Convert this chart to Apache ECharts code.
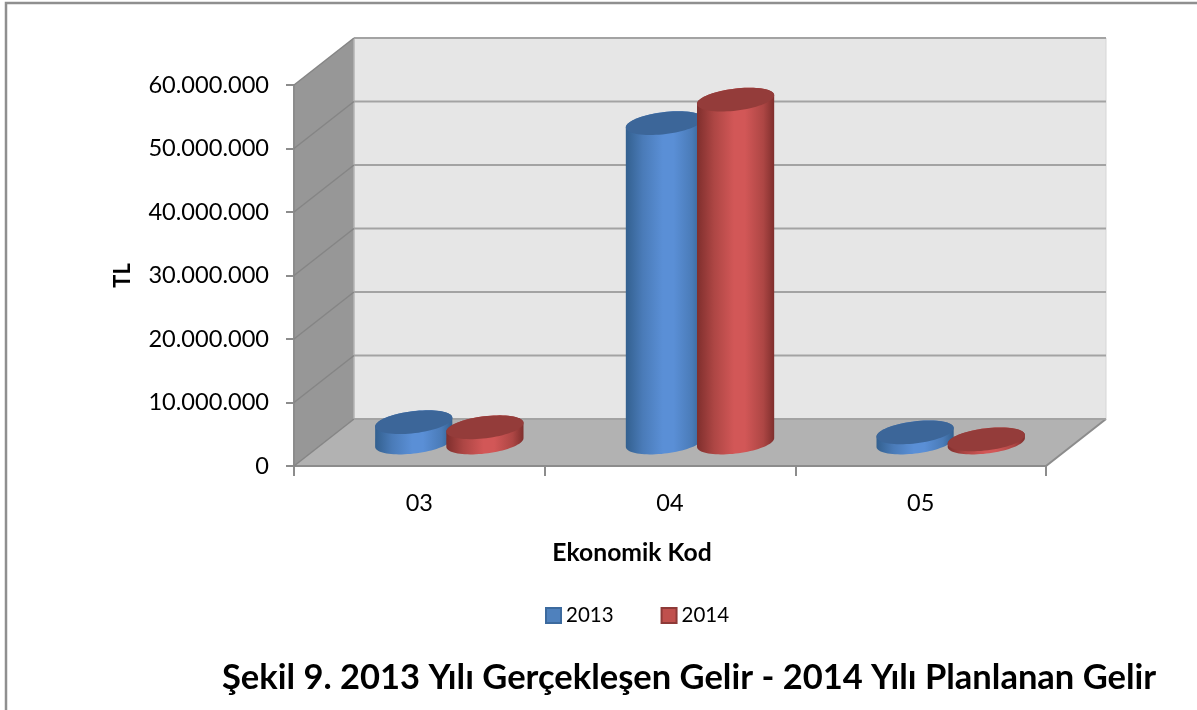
<!DOCTYPE html>
<html><head><meta charset="utf-8"><style>html,body{margin:0;padding:0;background:#fff}#c{width:1197px;height:710px}</style>
<script src="https://cdn.jsdelivr.net/npm/echarts@6/dist/echarts.min.js"></script></head>
<body><div id="c"></div><script>
const categories = ['03','04','05'];
const seriesNames = ['2013','2014'];
const values2013 = [3200000, 50300000, 1600000];
const values2014 = [2400000, 54000000, 500000];
const yTicks = [0,10000000,20000000,30000000,40000000,50000000,60000000];
const titleText = 'Şekil 9. 2013 Yılı Gerçekleşen Gelir - 2014 Yılı Planlanan Gelir';
const F = 'Lato';
const depthX = 60, depthY = 47;
const colors = {
  '2013': {edge:'#33608f', soft:'#4a7bb8', mid:'#5a8fd6', top:'#3c6699', border:'#3c6a9e', fill:'#4f81bd'},
  '2014': {edge:'#7f2f2d', soft:'#ad4644', mid:'#d25757', top:'#943c3a', border:'#8e3a38', fill:'#c0504d'}
};
function fmt(v){return String(v).replace(/\B(?=(\d{3})+$)/g,'.');}
function wallsItem(params, api){
  const v = api.value(0);
  const p = api.coord([0, v]);
  const cs = params.coordSys;
  const L = cs.x, R = cs.x + cs.width, T = cs.y, B = cs.y + cs.height;
  const children = [];
  if (params.dataIndex === 0) {
    children.push({type:'polygon',shape:{points:[[L+depthX,T-depthY],[R+depthX,T-depthY],[R+depthX,B-depthY],[L+depthX,B-depthY]]},style:{fill:'#e6e6e6'}});
    children.push({type:'polygon',shape:{points:[[L,T],[L+depthX,T-depthY],[L+depthX,B-depthY],[L,B]]},style:{fill:'#979797'}});
    children.push({type:'polygon',shape:{points:[[L,B],[L+depthX,B-depthY],[R+depthX,B-depthY],[R,B]]},style:{fill:'#b2b2b2'}});
    children.push({type:'polyline',shape:{points:[[L,T],[L,B],[R,B],[R+depthX,B-depthY]]},style:{fill:'none',stroke:'#8c8c8c',lineWidth:2}});
    children.push({type:'line',shape:{x1:L+depthX,y1:T-depthY,x2:L+depthX,y2:B-depthY},style:{stroke:'#b4b4b4',lineWidth:1.5}});
    children.push({type:'line',shape:{x1:R+depthX,y1:T-depthY,x2:R+depthX,y2:B-depthY},style:{stroke:'#d6d6d6',lineWidth:1}});
  }
  const y = p[1];
  children.push({type:'line',shape:{x1:L,y1:y,x2:L+depthX,y2:y-depthY},style:{stroke:'#858585',lineWidth:1.5}});
  children.push({type:'line',shape:{x1:L+depthX,y1:y-depthY,x2:R+depthX,y2:y-depthY},style:{stroke:'#a3a3a3',lineWidth:2}});
  return {type:'group',children};
}
function ellipsePts(cx,cy,a,b,th,t0,t1,n){
  const pts=[];
  for(let i=0;i<=n;i++){
    const t=t0+(t1-t0)*i/n;
    pts.push([cx+a*Math.cos(t)*Math.cos(th)-b*Math.sin(t)*Math.sin(th),
              cy+a*Math.cos(t)*Math.sin(th)+b*Math.sin(t)*Math.cos(th)]);
  }
  return pts;
}
function cylinder(name, sign){
  return function(params, api){
    const cat = api.value(0), val = api.value(1);
    const top = api.coord([cat,val]), base = api.coord([cat,0]);
    const band = api.size([1,0])[0];
    const off = sign*band*0.142;
    const a = band*0.155, b = 11, th = -7*Math.PI/180;
    const cx = top[0]+off+depthX/2;
    const yTop = top[1]-depthY/2, yBase = base[1]-depthY/2;
    const t0 = Math.atan2(-b*Math.sin(th), a*Math.cos(th));
    const lower = ellipsePts(cx,yBase,a,b,th,t0,t0+Math.PI,40);
    const upper = ellipsePts(cx,yTop,a,b,th,t0+Math.PI,t0+2*Math.PI,40);
    const c = colors[name];
    const grad = new echarts.graphic.LinearGradient(0,0,1,0,[
      {offset:0,color:c.edge},{offset:0.22,color:c.soft},{offset:0.48,color:c.mid},{offset:0.62,color:c.mid},{offset:0.86,color:c.soft},{offset:1,color:c.edge}]);
    return {type:'group',children:[
      {type:'polygon',shape:{points:lower.concat(upper)},style:{fill:grad}},
      {type:'polygon',shape:{points:ellipsePts(cx,yTop,a,b,th,0,2*Math.PI,72)},style:{fill:c.top}}
    ]};
  };
}
const seriesData = [values2013, values2014];
const chart = echarts.init(document.getElementById('c'),null,{renderer:'canvas'});
chart.setOption({
  animation:false,
  backgroundColor:'#ffffff',
  graphic:[{type:'polyline',shape:{points:[[6,710],[6,3],[1197,3]]},style:{fill:'none',stroke:'#8f8f8f',lineWidth:2.5},silent:true}],
  title:{text:titleText,left:222,top:660,padding:0,textStyle:{fontFamily:F,fontWeight:'bold',fontSize:34.5,color:'#000'}},
  legend:{data:seriesNames,left:545,top:605,itemWidth:15,itemHeight:15,itemGap:47,icon:'rect',padding:0,
    textStyle:{fontFamily:F,fontSize:20.5,color:'#000'}},
  grid:{left:294,right:151,top:85,bottom:244,containLabel:false},
  xAxis:{type:'category',data:categories,boundaryGap:true,name:'Ekonomik Kod',nameLocation:'middle',nameGap:75,
    nameTextStyle:{fontFamily:F,fontWeight:'bold',fontSize:24.7,color:'#000',padding:[0,76,0,0]},
    axisLine:{lineStyle:{color:'#8c8c8c',width:2}},axisTick:{show:true,alignWithLabel:false,length:10,lineStyle:{color:'#8c8c8c',width:2}},
    axisLabel:{fontFamily:F,fontSize:23.5,color:'#000',margin:25},splitLine:{show:false}},
  yAxis:{type:'value',min:0,max:60000000,interval:10000000,name:'TL',nameLocation:'middle',nameGap:160,nameRotate:90,
    nameTextStyle:{fontFamily:F,fontWeight:'bold',fontSize:22,color:'#000'},
    axisLine:{show:true,lineStyle:{color:'#8c8c8c',width:2}},axisTick:{show:true,length:8,lineStyle:{color:'#8c8c8c',width:2}},
    axisLabel:{fontFamily:F,fontSize:23.6,color:'#000',margin:25,padding:[5,0,0,0],formatter:fmt},splitLine:{show:false}},
  series:[
    {type:'custom',name:'walls',z:1,silent:true,renderItem:wallsItem,encode:{y:0},data:yTicks.map(v=>[v]),xAxisIndex:0,yAxisIndex:0,clip:false},
    ...seriesNames.map((n,si)=>({type:'custom',name:n,z:2+si,clip:false,silent:true,
      itemStyle:{color:colors[n].fill,borderColor:colors[n].border,borderWidth:1.5},
      renderItem:cylinder(n,si===0?-1:1),encode:{x:0,y:1},
      data:seriesData[si].map((v,i)=>[i,v])}))
  ]
});
</script></body></html>
